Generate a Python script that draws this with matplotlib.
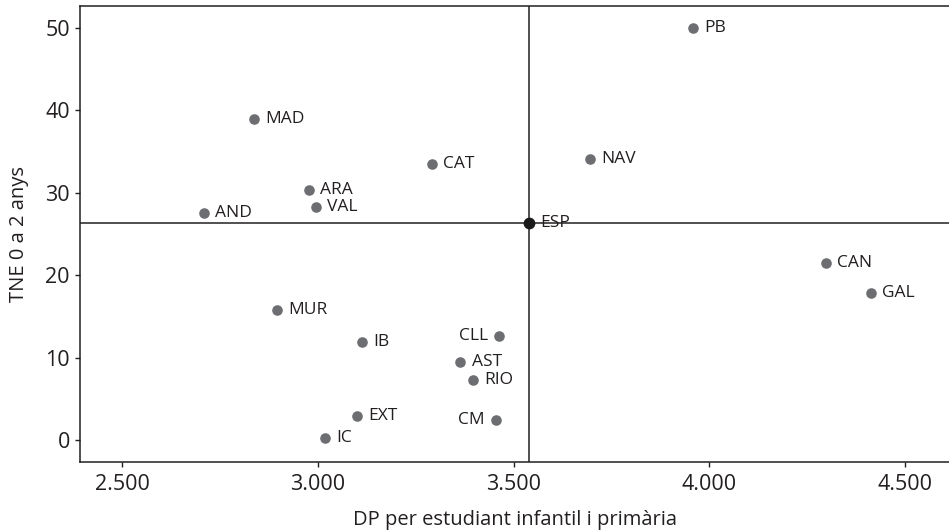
import matplotlib
matplotlib.use("Agg")
import matplotlib.pyplot as plt
from matplotlib.ticker import FuncFormatter

plt.rcParams['font.family'] = ['Open Sans', 'DejaVu Sans']

regions = ["MAD", "AND", "ARA", "VAL", "CAT", "NAV", "PB", "CAN", "GAL",
           "MUR", "IB", "CLL", "AST", "RIO", "EXT", "CM", "IC"]
dp = [2837, 2709, 2978, 2994, 3292, 3695, 3959, 4298, 4412,
      2895, 3113, 3462, 3364, 3397, 3099, 3455, 3018]
tne = [39.0, 27.5, 30.3, 28.3, 33.5, 34.1, 50.0, 21.5, 17.9,
       15.8, 11.9, 12.6, 9.5, 7.3, 2.9, 2.4, 0.2]
left_labels = ["CLL", "CM"]

esp_label = "ESP"
esp_dp = 3539
esp_tne = 26.3

x_ticks = [2500, 3000, 3500, 4000, 4500]
y_ticks = [0, 10, 20, 30, 40, 50]

text_color = "#231f20"
dot_color = "#6d6e71"

fig = plt.figure(figsize=(9.49, 5.32), dpi=100)
ax = fig.add_axes([0.0846, 0.1316, 0.9154, 0.8571])

ax.axvline(esp_dp, color="#231f20", lw=1.1, zorder=1)
ax.axhline(esp_tne, color="#231f20", lw=1.1, zorder=1)

ax.scatter(dp, tne, s=58, color=dot_color, zorder=3, linewidths=0)
ax.scatter([esp_dp], [esp_tne], s=72, color="#1a1a1a", zorder=4, linewidths=0)

for name, x, y in zip(regions, dp, tne):
    if name in left_labels:
        ax.annotate(name, (x, y), xytext=(-8, 0), textcoords="offset points",
                    ha="right", va="center", fontsize=12.5, color=text_color)
    else:
        ax.annotate(name, (x, y), xytext=(8, 0), textcoords="offset points",
                    ha="left", va="center", fontsize=12.5, color=text_color)
ax.annotate(esp_label, (esp_dp, esp_tne), xytext=(8, 0), textcoords="offset points",
            ha="left", va="center", fontsize=12.5, color=text_color)

ax.set_xlim(2393, 4612)
ax.set_ylim(-2.67, 52.67)
ax.set_xticks(x_ticks)
ax.set_yticks(y_ticks)
ax.xaxis.set_major_formatter(FuncFormatter(lambda v, p: f"{v:,.0f}".replace(",", ".")))

for side in ["left", "bottom", "top"]:
    ax.spines[side].set_color("#231f20")
    ax.spines[side].set_linewidth(1.1)
ax.spines["right"].set_visible(False)

ax.tick_params(axis="both", colors="#231f20", labelcolor=text_color,
               labelsize=15.5, length=3.5, width=1, pad=4)
ax.tick_params(axis="x", pad=5)
ax.set_xlabel("DP per estudiant infantil i primària", fontsize=14.5,
              color=text_color, labelpad=11)
ax.set_ylabel("TNE 0 a 2 anys", fontsize=14.5, color=text_color, labelpad=12)

fig.savefig("out.png", dpi=100)
